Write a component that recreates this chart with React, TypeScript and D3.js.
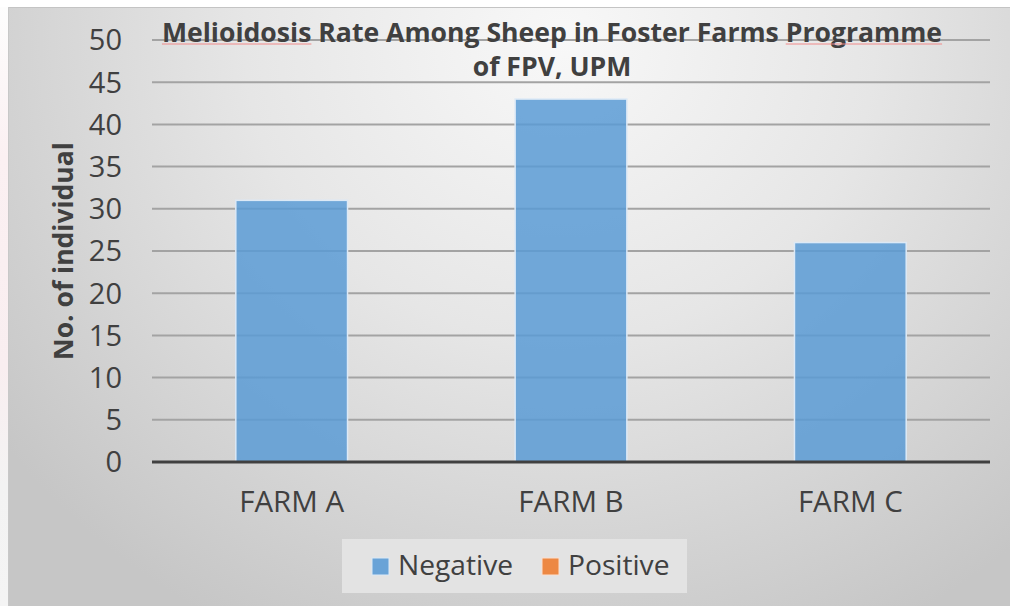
import React, { useLayoutEffect, useRef, useState } from "react";
import * as d3 from "d3";

// Chart data
const categories = ["FARM A", "FARM B", "FARM C"];
const negativeCounts = [31, 43, 26];
const positiveCounts: number[] = [];
const seriesNames = ["Negative", "Positive"];
const seriesColors = ["#5b9bd5", "#ed7d31"];
const yTicks = [0, 5, 10, 15, 20, 25, 30, 35, 40, 45, 50];
const titleLines = [
  "Melioidosis Rate Among Sheep in Foster Farms Programme",
  "of FPV, UPM",
];
const flaggedWords = ["Melioidosis", "Programme"];
const yAxisTitle = "No. of individual";

const W = 1012;
const H = 606;
const FONT = "'Open Sans', Calibri, sans-serif";

export default function App() {
  const plot = { left: 152, right: 990, top: 40, bottom: 462 };

  const x = d3
    .scaleBand<string>()
    .domain(categories)
    .range([plot.left, plot.right])
    .padding(0);
  const barW = x.bandwidth() / 2.5;

  const y = d3.scaleLinear().domain([0, 50]).range([plot.bottom, plot.top]);

  const titleRef = useRef<SVGTextElement>(null);
  const [squiggles, setSquiggles] = useState<{ x1: number; x2: number }[]>([]);

  useLayoutEffect(() => {
    const t = titleRef.current;
    if (!t) return;
    const s = titleLines[0];
    const res: { x1: number; x2: number }[] = [];
    flaggedWords.forEach((w) => {
      const i = s.indexOf(w);
      if (i < 0) return;
      try {
        const start = t.getStartPositionOfChar(i).x;
        const len = t.getSubStringLength(i, w.length);
        res.push({ x1: start, x2: start + len });
      } catch (e) {
        /* ignore */
      }
    });
    setSquiggles(res);
  }, []);

  const series = [negativeCounts, positiveCounts];

  return (
    <svg
      width={W}
      height={H}
      style={{ position: "absolute", left: 0, top: 0, display: "block" }}
      fontFamily={FONT}
    >
      <defs>
        <radialGradient
          id="bg"
          gradientUnits="userSpaceOnUse"
          cx={560}
          cy={40}
          r={700}
          gradientTransform="translate(560 40) scale(1 0.95) translate(-560 -40)"
        >
          <stop offset="0" stopColor="#f8f8f8" />
          <stop offset="0.45" stopColor="#e6e6e6" />
          <stop offset="1" stopColor="#c6c6c6" />
        </radialGradient>
        <linearGradient id="edge" x1="0" x2="0" y1="0" y2="1">
          <stop offset="0" stopColor="#fdfdfd" />
          <stop offset="0.25" stopColor="#fbf0f2" />
          <stop offset="0.6" stopColor="#f9eef0" />
          <stop offset="0.8" stopColor="#f3f3f3" />
          <stop offset="1" stopColor="#f4f4f4" />
        </linearGradient>
      </defs>

      {/* page surround */}
      <rect x={0} y={0} width={W} height={H} fill="#ffffff" />
      <rect x={0} y={7} width={8} height={H - 7} fill="url(#edge)" />

      {/* chart area */}
      <rect x={8} y={7} width={1002} height={H - 7} fill="url(#bg)" />
      <line x1={8} x2={1010} y1={7.5} y2={7.5} stroke="#c4c4c4" strokeWidth={1} />
      <line x1={8.5} x2={8.5} y1={7} y2={H} stroke="#c8c8c8" strokeWidth={1} />

      {/* gridlines */}
      {yTicks
        .filter((t) => t > 0)
        .map((t) => (
          <line
            key={t}
            x1={plot.left}
            x2={plot.right}
            y1={y(t)}
            y2={y(t)}
            stroke="#a3a3a3"
            strokeWidth={2}
          />
        ))}

      {/* bars */}
      {series.map((vals, si) =>
        vals.map((v, i) => {
          const cx = (x(categories[i]) as number) + x.bandwidth() / 2;
          return (
            <rect
              key={`${si}-${i}`}
              x={cx - barW / 2}
              y={y(v)}
              width={barW}
              height={y(0) - y(v)}
              fill={seriesColors[si]}
              fillOpacity={0.85}
              stroke="#dce9f6"
              strokeWidth={1.5}
            />
          );
        })
      )}

      {/* x axis line */}
      <line
        x1={plot.left}
        x2={plot.right}
        y1={y(0)}
        y2={y(0)}
        stroke="#404040"
        strokeWidth={3}
      />

      {/* y tick labels */}
      {yTicks.map((t) => (
        <text
          key={t}
          x={122}
          y={y(t)}
          dy="0.36em"
          textAnchor="end"
          fontSize={29}
          fill="#404040"
        >
          {t}
        </text>
      ))}

      {/* category labels */}
      {categories.map((c) => (
        <text
          key={c}
          x={(x(c) as number) + x.bandwidth() / 2}
          y={512}
          textAnchor="middle"
          fontSize={29.5}
          fill="#404040"
        >
          {c}
        </text>
      ))}

      {/* y axis title */}
      <text
        transform={`translate(73, 251) rotate(-90)`}
        textAnchor="middle"
        fontSize={26.5}
        fontWeight={700}
        fill="#404040"
      >
        {yAxisTitle}
      </text>

      {/* chart title */}
      <text
        ref={titleRef}
        x={552}
        y={42}
        textAnchor="middle"
        fontSize={26.6}
        fontWeight={700}
        fill="#404040"
      >
        {titleLines[0]}
      </text>
      <text
        x={552}
        y={76}
        textAnchor="middle"
        fontSize={26.6}
        fontWeight={700}
        fill="#404040"
      >
        {titleLines[1]}
      </text>
      {squiggles.map((s, i) => (
        <line
          key={i}
          x1={s.x1}
          x2={s.x2}
          y1={44}
          y2={44}
          stroke="#f08a8a"
          strokeWidth={1}
        />
      ))}

      {/* legend */}
      <rect x={342} y={539} width={345} height={54} fill="#e3e3e3" />
      {seriesNames.map((name, i) => {
        const sx = i === 0 ? 372 : 542;
        return (
          <g key={name}>
            <rect
              x={sx}
              y={558}
              width={17}
              height={17}
              fill={seriesColors[i]}
              fillOpacity={0.9}
              stroke={i === 0 ? "#dce9f6" : "#fbe0cf"}
              strokeWidth={1}
            />
            <text x={sx + 26} y={575} fontSize={28.2} fill="#404040">
              {name}
            </text>
          </g>
        );
      })}
    </svg>
  );
}
